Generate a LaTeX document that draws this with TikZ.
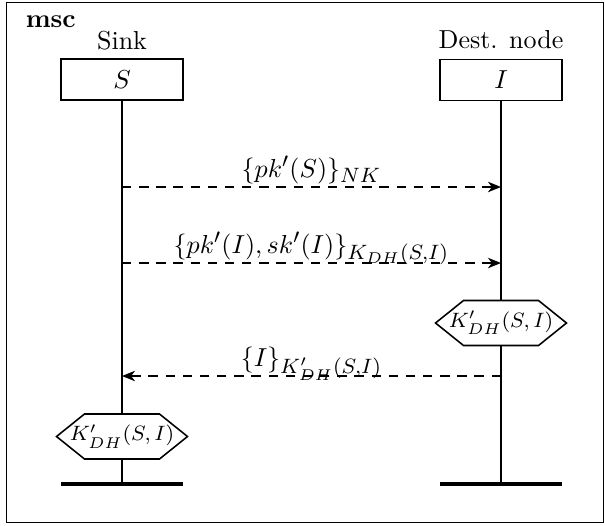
\documentclass[tikz,border=0pt]{standalone}
\usetikzlibrary{arrows.meta}
\DeclareMathSizes{10}{10}{8}{6}
\begin{document}
\begin{tikzpicture}[x=0.3846pt,y=-0.3846pt,
  every path/.style={line width=0.6pt},
  inst/.style={draw,line width=0.6pt,minimum width=46.9pt,minimum height=15.8pt,inner sep=0pt},
  lifeline/.style={line width=0.6pt},
  endbar/.style={line width=1.9pt},
  msg/.style={dash pattern=on 3.6pt off 3pt,-{Stealth[length=5pt,width=4pt,inset=1.5pt]},line width=0.7pt},
  mlabel/.style={anchor=base,inner sep=0pt},
  hexa/.style={draw,fill=white,line width=0.6pt},
  hexlabel/.style={inner sep=0pt,font=\footnotesize}]
\useasboundingbox (0,0) rectangle (605,525);
% frame
\draw (6.5,2.5) rectangle (603.5,522.5);
\node[anchor=base west,inner sep=0pt] (title) at (25,27) {\textbf{msc}};
% instances
\node[inst] (S) at (122,79.5) {$S$};
\node[inst] (I) at (501,80) {$I$};
\node[anchor=base,inner sep=0pt] (Sname) at (122,49) {Sink};
\node[anchor=base,inner sep=0pt] (Iname) at (501,48) {Dest. node};
\coordinate (Send) at (122,484);
\coordinate (Iend) at (501,484);
\draw[lifeline] (S.south) -- (Send);
\draw[lifeline] (I.south) -- (Iend);
\coordinate (Sbl) at (61,484);
\coordinate (Sbr) at (183,484);
\coordinate (Ibl) at (440,484);
\coordinate (Ibr) at (562,484);
\draw[endbar] (Sbl) -- (Sbr);
\draw[endbar] (Ibl) -- (Ibr);
% messages
\coordinate (m1s) at (122,187);
\coordinate (m1i) at (501,187);
\coordinate (m2s) at (122,263);
\coordinate (m2i) at (501,263);
\coordinate (m3i) at (501,376);
\coordinate (m3s) at (122,376);
\draw[msg] (m1s) -- (m1i) node[midway,mlabel,yshift=3.8pt] (l1) {$\{pk'(S)\}_{NK}$};
\draw[msg] (m2s) -- (m2i) node[midway,mlabel,yshift=3.8pt] (l2) {$\{pk'(I),sk'(I)\}_{K_{DH}(S,I)}$};
\draw[msg] (m3i) -- (m3s) node[midway,mlabel,yshift=3.7pt] (l3) {$\{I\}_{K'_{DH}(S,I)}$};
% conditions
\begin{scope}[shift={(501,323)}]
\draw[hexa] (-65.5,0) -- (-37.5,-22.5) -- (37.5,-22.5) -- (65.5,0) -- (37.5,22.5) -- (-37.5,22.5) -- cycle;
\node[hexlabel] (cI) at (0,0) {$K'_{DH}(S,I)$};
\end{scope}
\begin{scope}[shift={(122,436.5)}]
\draw[hexa] (-65.5,0) -- (-37.5,-22.5) -- (37.5,-22.5) -- (65.5,0) -- (37.5,22.5) -- (-37.5,22.5) -- cycle;
\node[hexlabel] (cS) at (0,0) {$K'_{DH}(S,I)$};
\end{scope}
\end{tikzpicture}
\end{document}
